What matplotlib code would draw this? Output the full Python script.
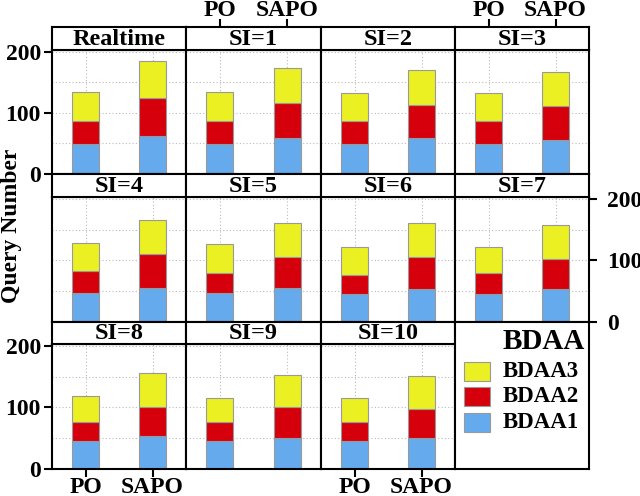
import matplotlib.pyplot as plt
from matplotlib.patches import Rectangle

plt.rcParams["font.family"] = ["Liberation Serif", "DejaVu Serif"]
plt.rcParams["font.weight"] = "bold"

panels = ["Realtime", "SI=1", "SI=2", "SI=3", "SI=4", "SI=5", "SI=6",
          "SI=7", "SI=8", "SI=9", "SI=10"]
methods = ["PO", "SAPO"]

# stacked pieces per panel: [PO, SAPO]
bdaa1 = [[49, 62], [49, 59], [49, 59], [49, 56], [47, 56], [47, 55],
         [46, 54], [46, 54], [46, 53], [46, 51], [46, 51]]
bdaa2 = [[38, 63], [38, 58], [37, 54], [37, 55], [36, 54], [33, 50],
         [31, 51], [33, 48], [31, 48], [30, 49], [30, 46]]
bdaa3 = [[48, 60], [47, 56], [46, 57], [46, 56], [45, 55], [46, 56],
         [44, 56], [42, 56], [42, 55], [40, 53], [40, 54]]

colors = {"BDAA1": "#66AAEE", "BDAA2": "#D5000C", "BDAA3": "#EAF022"}

W, H = 640, 496
fig = plt.figure(figsize=(W / 100, H / 100), dpi=100)

col_x = [52, 186, 321, 455, 589]
row_y = [(27, 50, 174), (174, 197, 322), (322, 344, 469)]
ymax = 203
tick_fs = 17


def fbox(x0, y0, x1, y1):
    return [x0 / W, 1 - y1 / H, (x1 - x0) / W, (y1 - y0) / H]


for i, name in enumerate(panels):
    r, c = divmod(i, 4)
    s_top, p_top, p_bot = row_y[r]
    x0, x1 = col_x[c], col_x[c + 1]

    ax = fig.add_axes(fbox(x0, p_top, x1, p_bot))
    ax.set_xlim(0.5, 2.5)
    ax.set_ylim(0, ymax)
    ax.set_axisbelow(True)
    ax.set_xticks([1, 2])
    ax.set_yticks([0, 100, 200])
    ax.set_yticks([50, 150], minor=True)
    ax.grid(True, which="both", color="#BBBBBB", linestyle=(0, (1, 2)),
            linewidth=0.8)

    xs = [1, 2]
    b1 = bdaa1[i]
    b2 = bdaa2[i]
    b3 = bdaa3[i]
    bottom3 = [a + b for a, b in zip(b1, b2)]
    kw = dict(width=0.4, edgecolor="#999999", linewidth=0.8)
    ax.bar(xs, b1, color=colors["BDAA1"], **kw)
    ax.bar(xs, b2, bottom=b1, color=colors["BDAA2"], **kw)
    ax.bar(xs, b3, bottom=bottom3, color=colors["BDAA3"], **kw)

    for sp in ax.spines.values():
        sp.set_linewidth(1.5)

    ax.tick_params(which="both", left=False, bottom=False, labelleft=False,
                   labelbottom=False)
    if c == 0 and r in (0, 2):
        ax.tick_params(axis="y", which="major", left=True, length=6, width=1.5,
                       labelleft=True, labelsize=tick_fs, pad=2)
    if c == 3 and r == 1:
        ax.tick_params(axis="y", which="major", right=True, length=6,
                       width=1.5, labelright=True, labelsize=tick_fs, pad=7)
    if r == 2 and c in (0, 2):
        ax.set_xticklabels(methods)
        ax.tick_params(axis="x", bottom=True, length=6, width=1.5,
                       labelbottom=True, labelsize=tick_fs, pad=0)

    sx = fig.add_axes(fbox(x0, s_top, x1, p_top))
    sx.set_xlim(0.5, 2.5)
    sx.set_ylim(0, 1)
    sx.set_yticks([])
    sx.set_xticks([])
    for sp in sx.spines.values():
        sp.set_linewidth(1.5)
    sx.text(1.5, 0.22, name, ha="center", va="baseline", fontsize=17.5,
            fontweight="bold")
    if r == 0 and c in (1, 3):
        sx.set_xticks([1, 2])
        sx.set_xticklabels(methods)
        sx.tick_params(axis="x", top=True, bottom=False, labeltop=True,
                       labelbottom=False, length=6, width=1.5,
                       labelsize=tick_fs, pad=-1.5)

# legend cell
lg = fig.add_axes(fbox(455, 322, 589, 469))
lg.set_xlim(455, 589)
lg.set_ylim(469, 322)
lg.set_xticks([])
lg.set_yticks([])
for sp in lg.spines.values():
    sp.set_linewidth(1.5)
lg.text(585, 341, "BDAA", ha="right", va="center", fontsize=21,
        fontweight="bold")
for lab, yc in [("BDAA3", 371), ("BDAA2", 396), ("BDAA1", 422)]:
    lg.add_patch(Rectangle((464, yc - 9.5), 26, 19, facecolor=colors[lab],
                           edgecolor="#999999", linewidth=0.8))
    lg.text(503, yc, lab, ha="left", va="center", fontsize=16.5,
            fontweight="bold")

fig.text(12 / W, 1 - 226 / H, "Query Number", rotation=90, ha="center",
         va="center", fontsize=17, fontweight="bold")

fig.savefig("out.png", dpi=100)
